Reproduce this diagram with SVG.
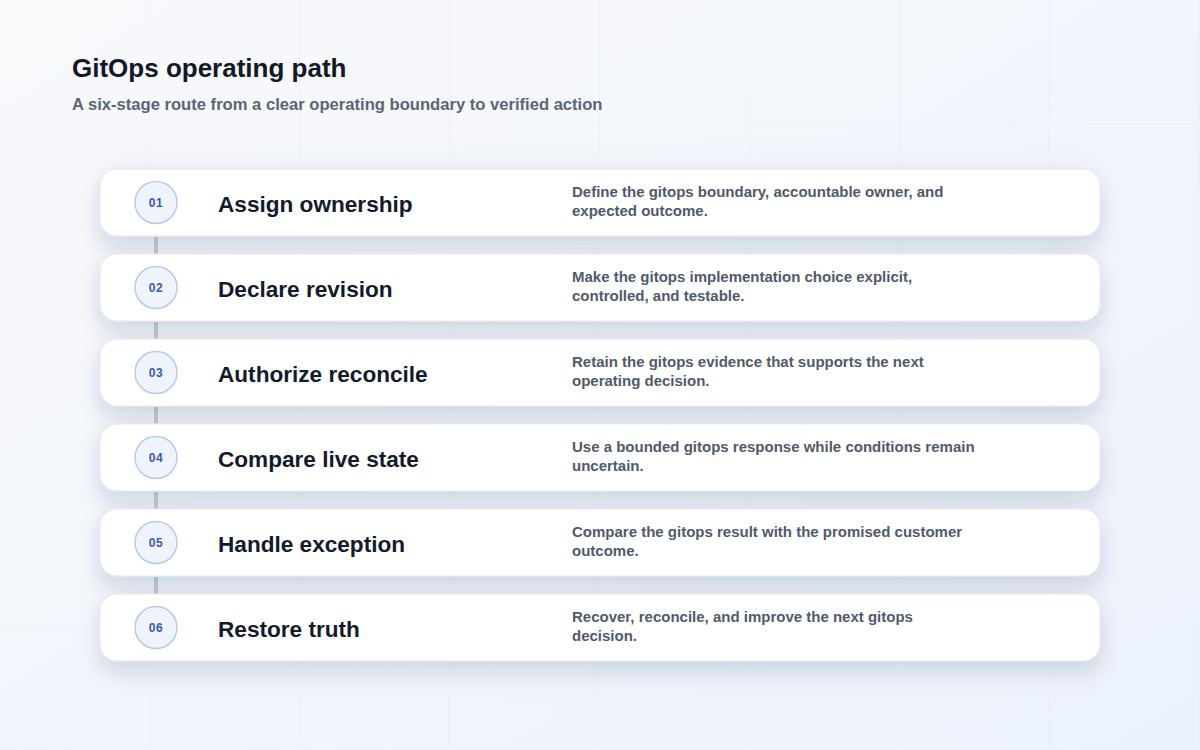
<svg xmlns="http://www.w3.org/2000/svg" width="1200" height="750" viewBox="0 0 1200 750">
  <defs>
    <linearGradient id="bg" x1="0" y1="0" x2="1" y2="1">
      <stop offset="0" stop-color="#f8f9fb"/>
      <stop offset="1" stop-color="#ecf2fc"/>
    </linearGradient>
    <pattern id="grid" width="150" height="125" patternUnits="userSpaceOnUse">
      <path d="M150 0 V125 M0 125 H150" fill="none" stroke="#e8ecf3" stroke-width="1.2"/>
    </pattern>
    <filter id="shadow" x="-10%" y="-40%" width="120%" height="200%">
      <feDropShadow dx="0" dy="10" stdDeviation="10" flood-color="#1e2a50" flood-opacity="0.14"/>
    </filter>
    <filter id="panelShadow" x="-10%" y="-10%" width="120%" height="120%">
      <feGaussianBlur stdDeviation="12"/>
    </filter>
  </defs>
  <style>
    .title { font-family: "Liberation Sans", Arial, sans-serif; font-weight: 700; font-size: 26px; fill: #111827; }
    .subtitle { font-family: "Liberation Sans", Arial, sans-serif; font-weight: 700; font-size: 16.6px; fill: #5b6577; }
    .card { fill: #ffffff; stroke: #e3e7ef; stroke-width: 1; filter: url(#shadow); }
    .badge { fill: #eef3fc; stroke: #b8cbe9; stroke-width: 1.5; }
    .num { font-family: "Liberation Sans", Arial, sans-serif; font-weight: 700; font-size: 12px; fill: #3a5ba6; text-anchor: middle; letter-spacing: 0.5px; }
    .stage { font-family: "Liberation Sans", Arial, sans-serif; font-weight: 700; font-size: 22.6px; fill: #131a2c; }
    .desc { font-family: "Liberation Sans", Arial, sans-serif; font-weight: 700; font-size: 15px; fill: #4f5a6b; }
    .link { stroke: #c6cad2; stroke-width: 4; }
  </style>

  <rect width="1200" height="750" fill="url(#bg)"/>
  <rect width="1200" height="750" fill="url(#grid)"/>
  <rect x="100" y="150" width="1000" height="538" rx="18" fill="#e9edf4" opacity="0.35" filter="url(#panelShadow)"/>

  <g id="header">
    <text class="title" x="72" y="77">GitOps operating path</text>
    <text class="subtitle" x="72" y="110">A six-stage route from a clear operating boundary to verified action</text>
  </g>

  <g id="connectors">
    <line class="link" x1="156" y1="237" x2="156" y2="254"/>
    <line class="link" x1="156" y1="322" x2="156" y2="339"/>
    <line class="link" x1="156" y1="407" x2="156" y2="424"/>
    <line class="link" x1="156" y1="492" x2="156" y2="509"/>
    <line class="link" x1="156" y1="577" x2="156" y2="594"/>
  </g>

  <g id="stage-01">
    <rect class="card" x="100" y="169" width="1000" height="67" rx="17"/>
    <circle class="badge" cx="156" cy="202.5" r="21"/>
    <text class="num" x="156" y="207">01</text>
    <text class="stage" x="218" y="212">Assign ownership</text>
    <text class="desc" x="572" y="197">Define the gitops boundary, accountable owner, and</text>
    <text class="desc" x="572" y="216">expected outcome.</text>
  </g>
  <g id="stage-02">
    <rect class="card" x="100" y="254" width="1000" height="67" rx="17"/>
    <circle class="badge" cx="156" cy="287.5" r="21"/>
    <text class="num" x="156" y="292">02</text>
    <text class="stage" x="218" y="297">Declare revision</text>
    <text class="desc" x="572" y="282">Make the gitops implementation choice explicit,</text>
    <text class="desc" x="572" y="301">controlled, and testable.</text>
  </g>
  <g id="stage-03">
    <rect class="card" x="100" y="339" width="1000" height="67" rx="17"/>
    <circle class="badge" cx="156" cy="372.5" r="21"/>
    <text class="num" x="156" y="377">03</text>
    <text class="stage" x="218" y="382">Authorize reconcile</text>
    <text class="desc" x="572" y="367">Retain the gitops evidence that supports the next</text>
    <text class="desc" x="572" y="386">operating decision.</text>
  </g>
  <g id="stage-04">
    <rect class="card" x="100" y="424" width="1000" height="67" rx="17"/>
    <circle class="badge" cx="156" cy="457.5" r="21"/>
    <text class="num" x="156" y="462">04</text>
    <text class="stage" x="218" y="467">Compare live state</text>
    <text class="desc" x="572" y="452">Use a bounded gitops response while conditions remain</text>
    <text class="desc" x="572" y="471">uncertain.</text>
  </g>
  <g id="stage-05">
    <rect class="card" x="100" y="509" width="1000" height="67" rx="17"/>
    <circle class="badge" cx="156" cy="542.5" r="21"/>
    <text class="num" x="156" y="547">05</text>
    <text class="stage" x="218" y="552">Handle exception</text>
    <text class="desc" x="572" y="537">Compare the gitops result with the promised customer</text>
    <text class="desc" x="572" y="556">outcome.</text>
  </g>
  <g id="stage-06">
    <rect class="card" x="100" y="594" width="1000" height="67" rx="17"/>
    <circle class="badge" cx="156" cy="627.5" r="21"/>
    <text class="num" x="156" y="632">06</text>
    <text class="stage" x="218" y="637">Restore truth</text>
    <text class="desc" x="572" y="622">Recover, reconcile, and improve the next gitops</text>
    <text class="desc" x="572" y="641">decision.</text>
  </g>
</svg>
